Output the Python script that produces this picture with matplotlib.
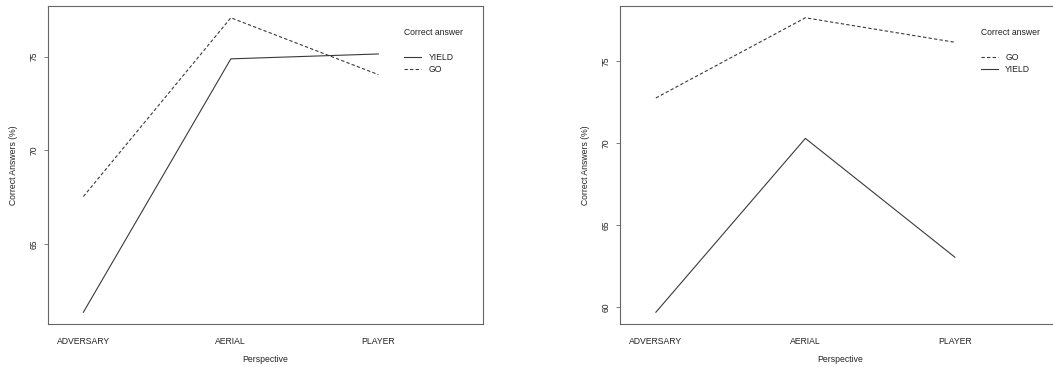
import matplotlib
matplotlib.use("Agg")
import matplotlib.pyplot as plt
from matplotlib.lines import Line2D

plt.rcParams['font.family'] = ['Liberation Sans', 'DejaVu Sans']

categories = ["ADVERSARY", "AERIAL", "PLAYER"]
left_yield = [61.37, 74.88, 75.14]
left_go = [67.54, 77.07, 74.04]
right_go = [72.74, 77.62, 76.13]
right_yield = [59.70, 70.28, 63.05]
left_yticks = [65, 70, 75]
right_yticks = [60, 65, 70, 75]

W, H = 1053, 367
fig = plt.figure(figsize=(W / 100, H / 100), dpi=100)

line_col = '#3a3a3a'
frame_col = '#666666'
fs = 6.2

def make_panel(x0_px, w_px, series, order, yticks):
    ax = fig.add_axes([x0_px / W, 1 - 324 / H, w_px / W, 318 / H])
    xs = [1, 2, 3]
    allv = []
    for name in order:
        vals, ls = series[name]
        allv += vals
        ax.plot(xs, vals, color=line_col, lw=0.8,
                linestyle=(0, (3, 2)) if ls == 'dash' else '-')
    lo, hi = min(allv), max(allv)
    pad = 0.04 * (hi - lo)
    ax.set_ylim(lo - pad, hi + pad)
    ax.set_xlim(0.76, 3.71)
    ax.set_xticks(xs)
    ax.set_xticklabels(categories, fontsize=fs, color='#222222')
    ax.tick_params(axis='x', length=0, pad=9)
    ax.set_yticks(yticks)
    ax.set_yticklabels([str(t) for t in yticks], fontsize=fs, rotation=90,
                       va='center', color='#222222')
    ax.tick_params(axis='y', length=3, width=0.6, color=frame_col, pad=4)
    for s in ax.spines.values():
        s.set_color(frame_col)
        s.set_linewidth(0.8)
    ax.set_xlabel("Perspective", fontsize=fs, color='#222222', labelpad=7)
    ax.set_ylabel("Correct Answers (%)", fontsize=fs, color='#222222', labelpad=8)
    return ax

axL = make_panel(48, 435, {"YIELD": (left_yield, 'solid'), "GO": (left_go, 'dash')},
                 ["YIELD", "GO"], left_yticks)
axR = make_panel(620, 441, {"GO": (right_go, 'dash'), "YIELD": (right_yield, 'solid')},
                 ["GO", "YIELD"], right_yticks)

def legend(ax, entries):
    h = [Line2D([0], [0], color=line_col, lw=0.8,
                linestyle=(0, (3, 2)) if ls == 'dash' else '-') for _, ls in entries]
    lg = ax.legend(h, [n for n, _ in entries], title="Correct answer",
                   loc='upper left', bbox_to_anchor=(0.809, 0.945),
                   frameon=False, fontsize=fs, title_fontsize=fs,
                   handlelength=2.0, handletextpad=0.8, labelspacing=0.35,
                   borderpad=0, alignment='left')
    lg.get_title().set_color('#222222')
    for t in lg.get_texts():
        t.set_color('#222222')
    lg._legend_box.sep = 12

legend(axL, [("YIELD", 'solid'), ("GO", 'dash')])
legend(axR, [("GO", 'dash'), ("YIELD", 'solid')])

fig.savefig("out.png", dpi=100)
